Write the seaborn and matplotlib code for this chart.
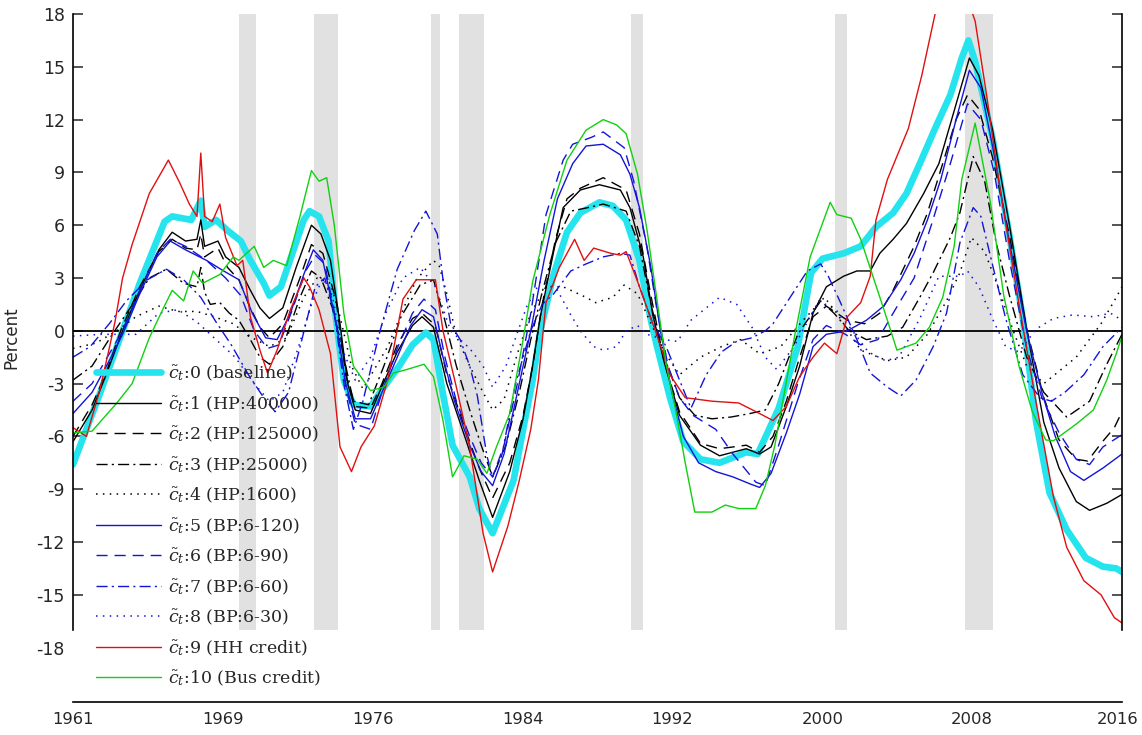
import numpy as np
import pandas as pd
import matplotlib
matplotlib.use("Agg")
import matplotlib.pyplot as plt
import matplotlib.transforms as mtrans
import seaborn as sns

# --- data (year, percent) ---
baseline = [(1961.0, -7.6), (1962.4, -3.6), (1963.6, 0.0), (1964.5, 2.7), (1965.8, 6.2), (1966.2, 6.5),
            (1967.2, 6.3), (1967.7, 7.4), (1967.9, 5.9), (1968.5, 6.3), (1969.1, 5.7), (1969.8, 5.1),
            (1970.3, 4.0), (1971.0, 2.7), (1971.3, 2.0), (1971.9, 2.5), (1972.5, 4.4), (1973.1, 6.3),
            (1973.4, 6.8), (1973.9, 6.5), (1974.4, 5.1), (1974.8, 0.6), (1975.2, -2.8), (1975.7, -4.2),
            (1976.6, -4.3), (1977.1, -3.5), (1978.1, -2.0), (1978.8, -0.8), (1979.5, -0.1), (1979.9, -0.5),
            (1980.4, -3.6), (1980.9, -6.5), (1981.8, -8.3), (1982.3, -10.1), (1983.0, -11.5), (1984.1, -8.5),
            (1984.6, -5.6), (1985.1, -2.8), (1985.5, 0.0), (1986.2, 3.2), (1986.9, 5.6), (1987.6, 6.7),
            (1988.6, 7.3), (1989.3, 7.1), (1990.0, 6.3), (1990.7, 4.0), (1991.3, 0.6), (1991.6, -0.8),
            (1992.3, -3.8), (1993.0, -6.3), (1993.9, -7.3), (1994.9, -7.5), (1996.3, -6.9), (1996.9, -7.0),
            (1998.0, -4.4), (1999.0, -0.9), (1999.7, 3.3), (2000.3, 4.1), (2001.4, 4.4), (2002.3, 4.8),
            (2003.1, 5.9), (2004.0, 6.7), (2004.7, 7.8), (2005.4, 9.5), (2006.2, 11.5), (2007.0, 13.4),
            (2007.6, 15.5), (2007.95, 16.5), (2008.3, 15.3), (2009.2, 11.0), (2010.1, 5.4), (2010.8, 0.7),
            (2011.5, -5.2), (2012.2, -9.2), (2013.1, -11.3), (2014.1, -12.9), (2015.0, -13.4), (2015.7, -13.5),
            (2016.0, -13.7)]

hp_400000 = [(1961.0, -6.3), (1962.0, -4.5), (1962.7, -2.6), (1963.6, 0.0), (1964.5, 2.3), (1965.5, 4.6),
             (1966.2, 5.6), (1966.9, 5.1), (1967.5, 5.2), (1967.7, 6.3), (1967.9, 4.8), (1968.6, 5.1),
             (1969.0, 4.2), (1969.7, 3.6), (1970.3, 2.3), (1970.8, 1.3), (1971.3, 0.7), (1972.0, 1.3),
             (1972.7, 3.6), (1973.5, 6.0), (1974.0, 5.5), (1974.5, 4.0), (1975.0, 0.4), (1975.4, -3.0),
             (1975.8, -4.5), (1976.6, -4.7), (1977.1, -3.4), (1978.0, -1.2), (1978.8, 0.3), (1979.3, 0.8),
             (1979.9, 0.2), (1980.6, -3.0), (1981.6, -6.2), (1982.3, -8.5), (1983.0, -10.6), (1983.9, -8.0),
             (1984.6, -5.0), (1985.1, -2.0), (1985.5, 0.8), (1986.2, 4.5), (1986.7, 7.0), (1987.6, 8.0),
             (1988.6, 8.3), (1989.7, 8.0), (1990.2, 7.0), (1990.9, 4.2), (1991.4, 0.9), (1992.0, -1.8),
             (1992.8, -4.8), (1993.9, -6.5), (1994.9, -7.1), (1996.3, -6.7), (1997.0, -7.0), (1997.6, -6.6),
             (1998.4, -4.3), (1999.1, -2.0), (1999.8, 1.0), (2000.5, 2.5), (2001.4, 3.1), (2002.1, 3.4),
             (2002.8, 3.4), (2003.3, 4.4), (2004.0, 5.2), (2004.7, 6.1), (2005.6, 7.8), (2006.4, 9.5),
             (2007.2, 12.5), (2008.0, 15.5), (2008.5, 14.5), (2009.2, 11.5), (2010.1, 6.0), (2011.0, 0.1),
             (2011.9, -5.2), (2012.7, -7.8), (2013.6, -9.7), (2014.3, -10.2), (2015.2, -9.8), (2016.0, -9.3)]

hp_125000 = [(1961.0, -6.0), (1962.0, -4.2), (1962.7, -2.5), (1963.5, 0.0), (1964.5, 2.5), (1965.5, 4.5),
             (1966.2, 5.2), (1966.9, 4.7), (1967.5, 4.6), (1967.7, 5.5), (1967.9, 4.2), (1968.6, 4.7),
             (1969.1, 3.6), (1969.7, 2.9), (1970.3, 1.3), (1970.8, 0.2), (1971.3, -0.4), (1972.0, 0.4),
             (1972.9, 3.0), (1973.5, 4.9), (1974.1, 4.4), (1974.8, 1.7), (1975.3, -2.5), (1975.8, -4.3),
             (1976.6, -4.4), (1977.2, -3.0), (1978.0, -0.8), (1978.8, 0.7), (1979.3, 1.0), (1980.0, 0.3),
             (1980.6, -2.5), (1981.6, -5.7), (1982.3, -7.8), (1983.0, -9.5), (1983.9, -7.5), (1984.6, -4.8),
             (1985.1, -2.0), (1985.6, 1.5), (1986.3, 5.2), (1986.9, 7.5), (1987.6, 8.1), (1988.8, 8.7),
             (1990.0, 8.0), (1990.7, 5.5), (1991.3, 2.0), (1992.0, -1.8), (1992.8, -4.6), (1993.9, -6.4),
             (1994.9, -6.7), (1996.3, -6.5), (1997.0, -6.9), (1997.7, -6.0), (1998.4, -4.0), (1999.1, -1.5),
             (1999.8, 0.8), (2000.5, 1.4), (2001.6, 0.6), (2002.5, 0.4), (2003.3, 1.0), (2004.0, 2.3),
             (2005.1, 4.8), (2005.8, 6.7), (2006.6, 9.5), (2007.3, 12.0), (2007.9, 13.4), (2008.5, 12.6),
             (2009.2, 9.9), (2010.1, 5.4), (2011.0, 0.1), (2011.9, -3.8), (2012.7, -6.2), (2013.6, -7.3),
             (2014.2, -7.4), (2014.9, -6.4), (2015.6, -5.5), (2016.0, -4.6)]

hp_25000 = [(1961.0, -2.8), (1962.0, -2.0), (1963.0, -0.3), (1964.0, 1.3), (1965.0, 3.0), (1965.9, 3.5),
            (1966.8, 2.7), (1967.5, 2.5), (1967.7, 3.6), (1967.9, 2.2), (1968.2, 1.5), (1968.7, 1.6),
            (1969.2, 1.0), (1969.7, 0.6), (1970.3, -0.5), (1970.8, -1.5), (1971.3, -1.9), (1972.0, -0.9),
            (1972.9, 1.9), (1973.5, 3.4), (1974.0, 3.0), (1974.6, 1.3), (1975.1, -1.0), (1975.7, -4.0),
            (1976.5, -4.2), (1977.3, -2.0), (1978.2, 0.8), (1979.2, 2.6), (1979.9, 2.9), (1980.4, 1.0),
            (1981.1, -2.0), (1981.8, -4.5), (1982.4, -6.5), (1983.0, -8.3), (1983.7, -6.5), (1984.4, -3.5),
            (1985.0, -0.5), (1985.6, 2.2), (1986.3, 5.0), (1987.1, 6.8), (1988.0, 7.0), (1988.8, 7.2),
            (1990.0, 6.8), (1990.7, 4.8), (1991.3, 1.5), (1992.0, -1.5), (1992.8, -3.8), (1993.6, -4.8),
            (1994.5, -5.0), (1995.5, -4.9), (1996.5, -4.7), (1997.3, -4.5), (1998.0, -3.0), (1999.0, -0.2),
            (2000.2, 1.7), (2000.9, 1.0), (2001.7, 0.0), (2002.6, -0.5), (2003.7, -0.3), (2004.5, 0.2),
            (2005.4, 1.9), (2006.1, 3.3), (2007.0, 5.3), (2007.5, 6.7), (2008.2, 9.9), (2008.8, 8.5),
            (2009.4, 5.0), (2010.1, 2.0), (2011.0, -1.5), (2011.9, -3.5), (2013.1, -4.9), (2014.3, -4.0),
            (2015.2, -1.9), (2016.0, -0.2)]

hp_1600 = [(1961.0, -1.0), (1962.2, -0.7), (1963.3, 0.0), (1964.3, 0.8), (1965.5, 1.4), (1966.5, 1.1),
           (1967.5, 1.1), (1968.4, 0.8), (1969.4, 0.4), (1970.4, -0.4), (1971.3, -0.9), (1972.2, -0.4),
           (1973.1, 1.9), (1973.8, 3.0), (1974.5, 2.7), (1975.0, 0.8), (1975.6, -2.0), (1976.2, -3.3),
           (1977.5, -0.9), (1978.3, 1.2), (1979.0, 2.9), (1979.9, 4.0), (1980.2, 3.7), (1980.6, 2.1),
           (1981.1, -0.3), (1981.8, -2.0), (1982.5, -3.5), (1983.0, -4.5), (1983.6, -3.9), (1984.3, -1.3),
           (1985.0, 1.0), (1985.8, 2.5), (1986.7, 2.5), (1987.9, 1.9), (1988.4, 1.6), (1989.3, 1.9),
           (1989.9, 2.6), (1990.6, 2.1), (1991.1, 0.9), (1992.0, -1.2), (1992.8, -2.5), (1993.9, -1.5),
           (1995.0, -0.9), (1996.0, -0.5), (1997.0, -1.3), (1998.1, -0.9), (1999.2, 0.5), (2000.4, 1.9),
           (2001.05, 1.0), (2002.3, -1.1), (2003.7, -1.7), (2004.7, -1.5), (2005.8, -0.2), (2006.8, 1.7),
           (2007.5, 3.3), (2008.1, 5.3), (2008.8, 4.5), (2009.5, 2.5), (2010.3, 0.0), (2011.0, -2.0),
           (2011.9, -3.0), (2013.6, -1.5), (2014.9, 0.4), (2015.7, 1.9), (2016.0, 2.5)]

bp_6_120 = [(1961.0, -4.7), (1962.0, -3.5), (1963.0, -1.5), (1963.6, -0.2), (1964.5, 2.1), (1965.4, 4.2),
            (1966.1, 5.1), (1966.9, 4.6), (1968.0, 4.0), (1968.9, 3.4), (1969.7, 2.9), (1970.4, 1.0),
            (1971.1, -0.4), (1971.7, -0.5), (1972.4, 1.0), (1973.1, 3.2), (1973.6, 4.6), (1974.1, 4.0),
            (1974.8, 0.4), (1975.3, -3.0), (1975.8, -5.0), (1976.6, -5.0), (1977.2, -3.5), (1978.0, -1.5),
            (1978.7, 0.3), (1979.3, 1.2), (1979.9, 0.8), (1980.4, -1.5), (1981.0, -4.0), (1981.8, -6.5),
            (1982.4, -8.0), (1983.0, -8.8), (1983.6, -7.0), (1984.3, -3.5), (1985.0, 0.0), (1985.7, 4.0),
            (1986.4, 7.5), (1987.2, 9.5), (1987.9, 10.5), (1988.8, 10.6), (1989.7, 10.0), (1990.2, 8.9),
            (1990.7, 7.0), (1991.3, 3.6), (1991.8, 0.0), (1992.4, -3.5), (1993.0, -6.0), (1993.8, -7.5),
            (1994.7, -8.0), (1995.6, -8.3), (1996.5, -8.7), (1997.0, -8.9), (1997.6, -8.1), (1998.4, -5.8),
            (1999.1, -3.6), (1999.8, -0.9), (2000.5, -0.2), (2001.6, 0.0), (2002.6, 0.6), (2003.5, 1.4),
            (2004.4, 2.9), (2005.1, 4.4), (2005.8, 6.3), (2006.5, 8.6), (2007.3, 12.0), (2008.0, 14.8),
            (2008.6, 13.8), (2009.3, 10.0), (2010.1, 5.0), (2011.0, 0.0), (2011.8, -3.5), (2012.5, -6.0),
            (2013.3, -8.0), (2014.0, -8.5), (2015.0, -7.8), (2016.0, -7.0)]

bp_6_90 = [(1961.0, -4.0), (1962.0, -3.0), (1963.6, 0.0), (1964.5, 2.3), (1965.4, 4.4), (1966.1, 5.2),
           (1966.9, 4.8), (1968.0, 4.0), (1969.0, 3.0), (1969.8, 2.0), (1970.5, 0.0), (1971.2, -1.0),
           (1971.8, -0.8), (1972.5, 1.2), (1973.2, 3.4), (1973.7, 4.3), (1974.2, 3.8), (1974.8, 0.5),
           (1975.3, -3.2), (1975.8, -5.3), (1976.6, -5.6), (1977.2, -3.5), (1978.0, -1.0), (1978.8, 1.0),
           (1979.4, 1.8), (1980.0, 1.2), (1980.5, -1.5), (1981.1, -4.0), (1981.8, -6.0), (1982.4, -7.5),
           (1983.0, -8.3), (1983.6, -6.5), (1984.3, -3.0), (1985.0, 1.0), (1985.8, 6.6), (1986.7, 9.7),
           (1987.2, 10.6), (1988.2, 11.0), (1988.8, 11.3), (1989.9, 10.4), (1990.4, 8.5), (1991.1, 4.7),
           (1991.6, 1.3), (1992.2, -2.0), (1992.8, -3.8), (1993.5, -4.8), (1994.7, -5.6), (1995.6, -7.0),
           (1996.8, -8.6), (1997.3, -8.8), (1998.0, -6.5), (1999.0, -3.0), (1999.8, -0.5), (2000.5, 0.3),
           (2001.5, -0.2), (2002.3, -0.8), (2003.2, -0.5), (2004.0, 1.0), (2005.1, 3.0), (2006.0, 6.0),
           (2007.0, 9.5), (2007.9, 12.9), (2008.6, 12.0), (2009.3, 9.0), (2010.1, 4.0), (2011.0, -1.0),
           (2011.8, -3.8), (2012.7, -5.8), (2013.6, -7.3), (2014.3, -7.6), (2015.0, -6.6), (2016.0, -5.9)]

bp_6_60 = [(1961.0, -1.5), (1961.9, -0.9), (1962.9, 0.4), (1963.8, 1.7), (1964.9, 2.9), (1965.9, 3.5),
           (1966.8, 2.9), (1967.7, 1.9), (1968.5, 0.5), (1969.3, -0.8), (1970.2, -2.5), (1971.0, -3.8),
           (1971.6, -4.6), (1972.3, -3.5), (1973.0, -0.5), (1973.7, 2.5), (1974.2, 3.0), (1974.7, 1.0),
           (1975.2, -3.0), (1975.7, -5.6), (1976.2, -4.0), (1977.1, 0.0), (1978.0, 3.5), (1978.9, 5.7),
           (1979.5, 6.8), (1980.1, 5.5), (1980.4, 2.9), (1980.8, 0.4), (1981.3, -0.5), (1981.8, -2.0),
           (1982.2, -3.7), (1982.7, -7.1), (1983.0, -8.3), (1983.5, -7.0), (1984.2, -3.0), (1985.0, 0.0),
           (1985.6, 1.5), (1986.2, 2.1), (1987.1, 3.4), (1987.9, 3.8), (1988.8, 4.2), (1989.7, 4.4),
           (1990.2, 4.3), (1990.7, 2.5), (1991.4, 0.4), (1992.1, -0.9), (1992.8, -2.8), (1993.4, -4.4),
           (1994.2, -2.5), (1995.0, -1.2), (1995.8, -0.6), (1996.6, -0.4), (1997.3, 0.0), (1997.7, 0.4),
           (1998.6, 1.9), (1999.5, 3.4), (2000.2, 3.8), (2000.6, 3.1), (2001.2, 1.7), (2002.1, -0.5),
           (2002.8, -2.4), (2003.7, -3.2), (2004.4, -3.7), (2005.2, -2.8), (2006.1, -0.9), (2006.8, 1.0),
           (2007.5, 5.0), (2008.2, 7.0), (2008.6, 6.5), (2009.2, 3.8), (2009.9, 0.7), (2010.8, -2.5),
           (2011.7, -3.8), (2012.3, -4.0), (2013.0, -3.5), (2014.0, -2.5), (2015.0, -0.9), (2016.0, 0.2)]

bp_6_30 = [(1961.0, -0.3), (1962.5, -0.2), (1964.3, -0.2), (1965.5, 1.0), (1966.5, 1.2), (1967.5, 0.5),
           (1968.5, -0.5), (1969.5, -1.5), (1970.5, -3.0), (1971.3, -4.0), (1972.0, -3.5), (1972.8, -1.0),
           (1973.5, 1.5), (1974.1, 3.0), (1974.6, 2.0), (1975.1, -1.0), (1975.8, -2.8), (1976.6, -1.5),
           (1977.4, 1.0), (1978.3, 3.0), (1979.2, 3.6), (1980.0, 2.5), (1980.8, 0.0), (1981.8, -1.0),
           (1982.5, -2.0), (1983.0, -3.2), (1983.7, -2.0), (1984.3, -0.1), (1984.8, 1.4), (1985.5, 2.8),
           (1986.3, 2.5), (1987.1, 0.9), (1987.6, 0.0), (1988.3, -0.9), (1988.8, -1.1), (1989.5, -0.9),
           (1990.0, 0.0), (1990.6, 0.3), (1991.1, -0.2), (1992.0, -0.5), (1992.7, -0.6), (1993.4, 0.6),
           (1994.2, 1.3), (1994.9, 1.9), (1995.8, 1.5), (1996.6, 0.2), (1997.3, -1.5), (1997.9, -2.2),
           (1998.8, -0.9), (1999.5, 0.5), (2000.1, 1.7), (2001.0, 1.2), (2001.8, 0.1), (2002.7, -1.2),
           (2003.6, -1.7), (2004.3, -1.5), (2005.4, 0.7), (2006.4, 3.1), (2007.5, 3.1), (2007.9, 3.4),
           (2008.5, 2.5), (2009.2, 0.7), (2009.9, -0.9), (2010.6, -1.2), (2011.5, 0.1), (2012.4, 0.7),
           (2013.4, 0.9), (2014.5, 0.8), (2015.4, 1.0), (2016.0, 0.6)]

hh_credit = [(1961.0, -5.5), (1961.7, -6.0), (1962.4, -3.4), (1962.9, -1.0), (1963.2, 0.5), (1963.6, 3.0),
             (1964.1, 4.9), (1965.0, 7.8), (1966.0, 9.7), (1966.6, 8.4), (1967.1, 7.2), (1967.5, 6.5),
             (1967.7, 10.1), (1967.9, 6.5), (1968.3, 6.2), (1968.7, 7.2), (1969.0, 5.3), (1969.6, 3.7),
             (1969.9, 4.0), (1970.3, 0.8), (1970.8, -1.1), (1971.2, -2.4), (1971.7, -1.1), (1972.4, 1.2),
             (1973.1, 3.0), (1973.4, 2.5), (1973.9, 1.2), (1974.5, -1.3), (1975.0, -6.6), (1975.6, -8.0),
             (1976.1, -6.6), (1976.8, -5.4), (1977.5, -2.8), (1978.3, 1.8), (1979.0, 2.9), (1980.0, 2.9),
             (1980.4, 0.0), (1981.1, -3.2), (1981.8, -6.6), (1982.5, -11.5), (1983.0, -13.7), (1983.8, -11.1),
             (1984.4, -8.5), (1985.0, -5.6), (1985.4, -2.8), (1985.8, 1.6), (1986.5, 3.6), (1987.3, 5.2),
             (1987.8, 4.0), (1988.3, 4.7), (1989.2, 4.4), (1989.7, 4.3), (1990.0, 4.5), (1990.6, 2.8),
             (1991.1, 1.3), (1991.6, -0.2), (1992.3, -2.5), (1993.1, -3.8), (1994.5, -4.0), (1995.9, -4.1),
             (1997.0, -4.7), (1997.7, -5.1), (1998.4, -4.3), (1999.1, -2.6), (1999.8, -1.5), (2000.4, -0.7),
             (2001.05, -1.3), (2001.6, 0.8), (2002.3, 1.6), (2002.8, 3.1), (2003.1, 6.3), (2003.7, 8.6),
             (2004.8, 11.5), (2005.5, 14.5), (2006.2, 18.0), (2007.2, 21.0), (2008.3, 17.6), (2008.9, 13.4),
             (2009.6, 8.1), (2010.6, 1.5), (2011.5, -4.1), (2012.4, -9.4), (2013.1, -12.3), (2014.0, -14.2),
             (2014.9, -15.0), (2015.6, -16.3), (2016.0, -16.6)]

bus_credit = [(1961.0, -5.8), (1962.0, -5.7), (1963.3, -4.1), (1964.1, -3.0), (1965.0, -0.4), (1965.7, 1.2),
              (1966.2, 2.3), (1966.8, 1.7), (1967.3, 3.4), (1967.8, 2.7), (1968.7, 3.2), (1969.4, 4.2),
              (1969.7, 4.0), (1970.5, 4.8), (1971.0, 3.6), (1971.5, 4.0), (1972.2, 3.7), (1972.9, 6.5),
              (1973.5, 9.1), (1973.9, 8.5), (1974.3, 8.7), (1974.7, 6.0), (1975.2, 1.0), (1975.7, -2.0),
              (1976.6, -3.4), (1977.3, -3.2), (1977.8, -2.4), (1978.5, -2.2), (1979.4, -1.9), (1979.9, -2.6),
              (1980.4, -5.1), (1980.9, -8.3), (1981.5, -7.1), (1982.2, -7.3), (1982.7, -8.1), (1983.2, -6.6),
              (1983.9, -4.7), (1984.6, -0.5), (1985.1, 2.8), (1986.0, 6.6), (1986.9, 9.7), (1987.9, 11.4),
              (1988.8, 12.0), (1989.5, 11.7), (1990.0, 11.2), (1990.6, 8.9), (1991.1, 5.7), (1991.6, 1.9),
              (1992.1, -1.9), (1992.6, -4.5), (1993.1, -7.5), (1993.6, -10.3), (1994.5, -10.3), (1995.2, -9.9),
              (1995.9, -10.1), (1996.8, -10.1), (1997.3, -8.8), (1997.8, -6.5), (1998.8, -0.5), (1999.65, 4.2),
              (2000.7, 7.3), (2001.05, 6.6), (2001.8, 6.4), (2002.3, 5.2), (2003.0, 2.9), (2003.7, 0.6),
              (2004.2, -1.1), (2005.2, -0.7), (2005.9, 0.2), (2006.6, 1.9), (2007.2, 4.8), (2007.6, 8.6),
              (2008.3, 11.8), (2009.1, 7.3), (2009.8, 2.0), (2010.6, -2.0), (2011.3, -4.6), (2012.0, -6.2),
              (2012.4, -6.25), (2013.6, -5.3), (2014.5, -4.5), (2015.2, -2.8), (2015.7, -1.3), (2016.0, -0.3)]

series_labels = ['0 (baseline)', '1 (HP:400000)', '2 (HP:125000)', '3 (HP:25000)', '4 (HP:1600)',
                 '5 (BP:6-120)', '6 (BP:6-90)', '7 (BP:6-60)', '8 (BP:6-30)', '9 (HH credit)',
                 '10 (Bus credit)']

# NBER recessions (shaded bands)
rec_start = [1969.7, 1973.64, 1979.77, 1981.25, 1990.26, 2000.96, 2007.78]
rec_end = [1970.58, 1974.9, 1980.25, 1982.56, 1990.9, 2001.6, 2009.23]

tick_years = ['1961', '1969', '1976', '1984', '1992', '2000', '2008', '2016']


def build_frame():
    """stack all series into one long table for seaborn"""
    all_series = [baseline, hp_400000, hp_125000, hp_25000, hp_1600, bp_6_120, bp_6_90,
                  bp_6_60, bp_6_30, hh_credit, bus_credit]
    parts = []
    for lab, pts in zip(series_labels, all_series):
        yrs, vals = zip(*pts)
        parts.append(pd.DataFrame({'year': yrs, 'value': vals, 'series': lab}))
    return pd.concat(parts, ignore_index=True)


def draw(df):
    sns.set_style('white')
    plt.rcParams['font.family'] = ['DejaVu Sans']
    plt.rcParams['mathtext.fontset'] = 'dejavuserif'

    # line looks: colour, width, dash pattern
    looks = {
        '0 (baseline)': ('#25e4ee', 4.8, '-'),
        '1 (HP:400000)': ('black', 1.0, '-'),
        '2 (HP:125000)': ('black', 1.0, (0, (8, 5))),
        '3 (HP:25000)': ('black', 1.0, (0, (8, 3, 1.5, 3))),
        '4 (HP:1600)': ('black', 1.1, (0, (1, 3.5))),
        '5 (BP:6-120)': ('#1414d8', 1.0, '-'),
        '6 (BP:6-90)': ('#1414d8', 1.0, (0, (8, 5))),
        '7 (BP:6-60)': ('#1414d8', 1.0, (0, (8, 3, 1.5, 3))),
        '8 (BP:6-30)': ('#1414d8', 1.1, (0, (1, 3.5))),
        '9 (HH credit)': ('#e01010', 1.0, '-'),
        '10 (Bus credit)': ('#10d010', 1.0, '-'),
    }

    fig = plt.figure(figsize=(11.42, 7.35), dpi=100)
    ax = fig.add_axes([73 / 1142, 1 - 702 / 735, 1049 / 1142, 688 / 735])

    y_top = 18.0
    y_bot = y_top - 688 / 17.6
    ax.set_xlim(1961, 2016)
    ax.set_ylim(y_bot, y_top)

    # grey recession bands stop at -17 like in the original
    band_lo = (-17 - y_bot) / (y_top - y_bot)
    for s, e in zip(rec_start, rec_end):
        ax.axvspan(s, e, ymin=band_lo, ymax=1, color='#e1e1e1', lw=0, zorder=0)

    ax.axhline(0, color='black', lw=1.3, zorder=1)

    for lab in series_labels:
        col, lw, ls = looks[lab]
        sub = df[df['series'] == lab]
        sns.lineplot(data=sub, x='year', y='value', ax=ax, color=col, linewidth=lw,
                     linestyle=ls, estimator=None, sort=False,
                     label=r'$\tilde{c}_t$:' + lab, zorder=2)

    # axes frame
    ax.spines['top'].set_visible(False)
    ax.spines['left'].set_bounds(-17, y_top)
    ax.spines['right'].set_bounds(-17, y_top)
    for sp in ['left', 'right', 'bottom']:
        ax.spines[sp].set_linewidth(1.2)
        ax.spines[sp].set_color('black')

    ax.set_yticks(np.arange(-18, 19, 3))
    ax.set_yticklabels([str(v) for v in np.arange(-18, 19, 3)])
    ax.set_xticks(np.linspace(1961, 2016, len(tick_years)))
    ax.set_xticklabels(tick_years)
    ax.tick_params(axis='y', direction='in', length=7, width=1.1, left=True, right=True,
                   labelright=False, labelsize=12.5, pad=6)
    ax.tick_params(axis='x', length=0, labelsize=11.8, pad=7)
    for t in ax.yaxis.get_major_ticks():
        if abs(t.get_loc() + 18) < 1e-6:
            t.tick1line.set_visible(False)
            t.tick2line.set_visible(False)
    # last year label sits against the right edge, shift it left a little
    last = ax.xaxis.get_major_ticks()[-1].label1
    last.set_transform(last.get_transform() + mtrans.ScaledTranslation(-3 / 72, 0, fig.dpi_scale_trans))

    ax.set_xlabel('')
    ax.set_ylabel('Percent', fontsize=12)
    ax.yaxis.set_label_coords(-0.050, 0.53)

    ax.legend(loc='lower left', bbox_to_anchor=(0.012, 0.005), frameon=False,
              prop={'family': 'DejaVu Serif', 'size': 12.5}, handlelength=3.75,
              handletextpad=0.4, labelspacing=0.64, borderaxespad=0.2)

    fig.savefig('out.png', dpi=100)


if __name__ == '__main__':
    data = build_frame()
    draw(data)
